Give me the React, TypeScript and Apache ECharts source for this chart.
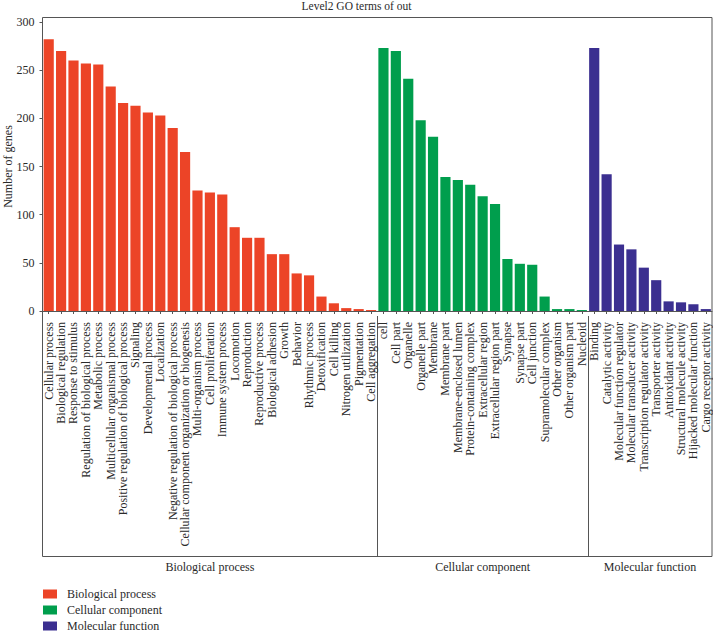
import React, { useEffect, useRef } from "react";
import * as echarts from "echarts";

const bpTerms = [
  "Cellular process",
  "Biological regulation",
  "Response to stimulus",
  "Regulation of biological process",
  "Metabolic process",
  "Multicellular organismal process",
  "Positive regulation of biological process",
  "Signaling",
  "Developmental process",
  "Localization",
  "Negative regulation of biological process",
  "Cellular component organization or biogenesis",
  "Multi-organism process",
  "Cell proliferation",
  "Immune system process",
  "Locomotion",
  "Reproduction",
  "Reproductive process",
  "Biological adhesion",
  "Growth",
  "Behavior",
  "Rhythmic process",
  "Detoxification",
  "Cell killing",
  "Nitrogen utilization",
  "Pigmentation",
  "Cell aggregation",
];
const bpValues = [282, 270, 260, 257, 256, 233, 216, 213, 206, 203, 190, 165, 125, 123, 121, 87, 76, 76, 59, 59, 39, 37, 15, 8, 3, 2, 1];

const ccTerms = [
  "cell",
  "Cell part",
  "Organelle",
  "Organelle part",
  "Membrane",
  "Membrane part",
  "Membrane-enclosed lumen",
  "Protein-containing complex",
  "Extracellular region",
  "Extracellular region part",
  "Synapse",
  "Synapse part",
  "Cell junction",
  "Supramolecular complex",
  "Other organism",
  "Other organism part",
  "Nucleoid",
];
const ccValues = [273, 270, 241, 198, 181, 139, 136, 131, 119, 111, 54, 49, 48, 15, 2, 2, 1];

const mfTerms = [
  "Binding",
  "Catalytic activity",
  "Molecular function regulator",
  "Molecular transducer activity",
  "Transcription regulator activity",
  "Transporter activity",
  "Antioxidant activity",
  "Structural molecule activity",
  "Hijacked molecular function",
  "Cargo receptor activity",
];
const mfValues = [273, 142, 69, 64, 45, 32, 10, 9, 7, 2];

const groupNames = ["Biological process", "Cellular component", "Molecular function"];
const groupColors = ["#EC4427", "#009E4D", "#3B2F90"];
const yAxisTitle = "Number of genes";
const yMin = 0;
const yMax = 300;
const yInterval = 50;

const FONT = "Liberation Serif";
const TEXT = "#2a2a2a";
const LINE = "#555";

export default function App() {
  const ref = useRef<HTMLDivElement>(null);

  useEffect(() => {
    document.body.style.margin = "0";
    const chart = echarts.init(ref.current!, null, { renderer: "svg" });
    const termGroups = [bpTerms, ccTerms, mfTerms];
    const valueGroups = [bpValues, ccValues, mfValues];
    const categories = ([] as string[]).concat(...termGroups);
    const offsets: number[] = [];
    let acc = 0;
    termGroups.forEach((t) => {
      offsets.push(acc);
      acc += t.length;
    });

    const series = valueGroups.map((vals, g) => ({
      name: groupNames[g],
      type: "bar",
      stack: "all",
      barWidth: "82%",
      itemStyle: { color: groupColors[g] },
      data: categories.map((_, i) =>
        i >= offsets[g] && i < offsets[g] + vals.length ? vals[i - offsets[g]] : null
      ),
    }));

    const gridLeft = 42.5;
    const gridRight = 712;
    const gridTop = 22;
    const zeroY = 311;
    const axisOffset = 5;
    const frameTop = 17.5;
    const frameBottom = 556.5;

    chart.setOption({
      animation: false,
      title: {
        text: "Level2 GO terms of out",
        left: "center",
        top: 0,
        padding: 0,
        textStyle: { fontFamily: FONT, fontSize: 11.5, fontWeight: "normal", color: TEXT },
      },
      grid: {
        left: gridLeft,
        right: 713 - gridRight,
        top: gridTop,
        bottom: 632 - zeroY,
        containLabel: false,
        outerBoundsMode: "none",
      },
      xAxis: {
        type: "category",
        data: categories,
        offset: axisOffset,
        axisLine: { show: true, lineStyle: { color: LINE, width: 1 } },
        axisTick: { show: true, alignWithLabel: true, length: 3, lineStyle: { color: LINE } },
        axisLabel: {
          rotate: 90,
          interval: 0,
          margin: 6,
          fontFamily: FONT,
          fontSize: 12,
          color: TEXT,
        },
      },
      yAxis: {
        type: "value",
        min: yMin,
        max: yMax,
        interval: yInterval,
        axisLine: { show: false },
        axisTick: { show: true, length: 3, lineStyle: { color: LINE } },
        axisLabel: { margin: 8, fontFamily: FONT, fontSize: 12, color: TEXT },
        splitLine: { show: false },
      },
      legend: {
        orient: "vertical",
        left: 43,
        top: 588,
        padding: 0,
        icon: "rect",
        itemWidth: 14,
        itemHeight: 9,
        itemGap: 4,
        textStyle: { fontFamily: FONT, fontSize: 12, color: TEXT, padding: [0, 0, 0, 5] },
        data: groupNames,
      },
      series,
    });

    const px = (i: number) => chart.convertToPixel({ xAxisIndex: 0 }, i) as number;
    const boundaries: number[] = [gridLeft];
    offsets.slice(1).forEach((o) => boundaries.push((px(o - 1) + px(o)) / 2));
    boundaries.push(gridRight);
    const axisY = zeroY + axisOffset;

    const graphics: any[] = [
      {
        type: "rect",
        shape: { x: gridLeft, y: frameTop, width: gridRight - gridLeft, height: frameBottom - frameTop },
        style: { fill: "none", stroke: LINE, lineWidth: 1 },
        silent: true,
      },
      {
        type: "text",
        x: 8,
        y: (gridTop + zeroY) / 2,
        rotation: Math.PI / 2,
        style: {
          text: yAxisTitle,
          fontFamily: FONT,
          fontSize: 12,
          fill: TEXT,
          align: "center",
          verticalAlign: "middle",
        },
        silent: true,
      },
    ];
    boundaries.slice(1, -1).forEach((b) => {
      const x = Math.round(b) + 0.5;
      graphics.push({
        type: "line",
        shape: { x1: x, y1: axisY, x2: x, y2: frameBottom },
        style: { stroke: LINE, lineWidth: 1 },
        silent: true,
      });
    });
    groupNames.forEach((name, g) => {
      graphics.push({
        type: "text",
        x: (boundaries[g] + boundaries[g + 1]) / 2,
        y: 567,
        style: {
          text: name,
          fontFamily: FONT,
          fontSize: 12,
          fill: TEXT,
          align: "center",
          verticalAlign: "middle",
        },
        silent: true,
      });
    });
    chart.setOption({ graphic: graphics });

    return () => chart.dispose();
  }, []);

  return <div ref={ref} style={{ width: 713, height: 632 }} />;
}
